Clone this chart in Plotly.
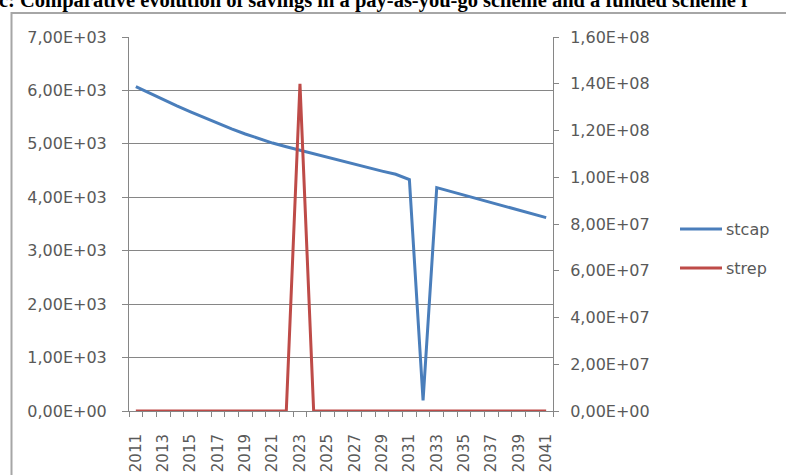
import plotly.graph_objects as go

years = list(range(2011, 2042))
stcap = [6070, 5945, 5825, 5710, 5600, 5490, 5380, 5280, 5185, 5095,
         5015, 4945, 4880, 4810, 4740, 4675, 4610, 4550, 4490, 4430,
         4330, 200, 4180, 4110, 4040, 3970, 3900, 3830, 3760, 3690, 3620]
strep = [0, 0, 0, 0, 0, 0, 0, 0, 0, 0,
         0, 0, 1.40e8, 0, 0, 0, 0, 0, 0, 0,
         0, 0, 0, 0, 0, 0, 0, 0, 0, 0, 0]

left_ticks = [0, 1000, 2000, 3000, 4000, 5000, 6000, 7000]
left_labels = ["0,00E+00", "1,00E+03", "2,00E+03", "3,00E+03",
               "4,00E+03", "5,00E+03", "6,00E+03", "7,00E+03"]
right_ticks = [0, 2e7, 4e7, 6e7, 8e7, 1e8, 1.2e8, 1.4e8, 1.6e8]
right_labels = ["0,00E+00", "2,00E+07", "4,00E+07", "6,00E+07", "8,00E+07",
                "1,00E+08", "1,20E+08", "1,40E+08", "1,60E+08"]
x_ticks = years[::2]
x_labels = [str(y) for y in x_ticks]
series_names = ["stcap", "strep"]
colors = ["#4A7EBB", "#BE4B48"]
title_text = "c: Comparative evolution of savings in a pay-as-you-go scheme and a funded scheme f"

W, H = 786, 475
L, R, T, B = 129, 233, 37, 64
PW, PH = W - L - R, H - T - B

def px(x):
    return (x - L) / PW

def py(y):
    return (H - B - y) / PH

FONT = "DejaVu Sans"
TXT = "#595959"
AX = "#868686"

fig = go.Figure()
fig.add_trace(go.Scatter(x=years, y=stcap, mode="lines", name=series_names[0],
                         line=dict(color=colors[0], width=3), yaxis="y"))
fig.add_trace(go.Scatter(x=years, y=strep, mode="lines", name=series_names[1],
                         line=dict(color=colors[1], width=3), yaxis="y2"))

fig.update_layout(
    width=W, height=H,
    margin=dict(l=L, r=R, t=T, b=B, pad=0, autoexpand=False),
    paper_bgcolor="white", plot_bgcolor="white",
    showlegend=False,
    xaxis=dict(range=[2010.5, 2041.5], tickmode="array", tickvals=x_ticks, ticktext=x_labels,
               tickangle=-90, showgrid=False, zeroline=False, showline=True, linecolor=AX,
               linewidth=1, ticks="", ticklabelstandoff=16, automargin=False,
               tickfont=dict(family=FONT, size=15, color=TXT),
               minor=dict(tick0=2010.5, dtick=1, ticks="outside", ticklen=5,
                          tickcolor=AX, showgrid=False)),
    yaxis=dict(range=[0, 7000], tickmode="array", tickvals=left_ticks, ticktext=left_labels,
               showgrid=True, gridcolor=AX, gridwidth=1, zeroline=False, automargin=False,
               showline=True, linecolor=AX, ticks="outside", ticklen=6, tickcolor=AX,
               ticklabelstandoff=12,
               tickfont=dict(family=FONT, size=16, color=TXT)),
    yaxis2=dict(range=[0, 1.6e8], overlaying="y", side="right", tickmode="array",
                tickvals=right_ticks, ticktext=right_labels, showgrid=False, zeroline=False,
                showline=True, linecolor=AX, ticks="outside", ticklen=5, tickcolor=AX,
                ticklabelstandoff=8, automargin=False,
                tickfont=dict(family=FONT, size=16, color=TXT)),
)

shapes = [
    dict(type="rect", xref="paper", yref="paper",
         x0=px(11.5), x1=px(W + 20), y0=py(H + 20), y1=py(13),
         line=dict(color="#a6a6a6", width=2), fillcolor="rgba(0,0,0,0)", layer="above"),
]
legend_y = [229, 268]
annotations = [
    dict(text=title_text, xref="paper", yref="paper", x=px(-3), y=py(14),
         xanchor="left", yanchor="bottom", showarrow=False,
         font=dict(family="Liberation Serif", size=20.5, color="black", weight="bold")),
]
for name, col, ly in zip(series_names, colors, legend_y):
    shapes.append(dict(type="line", xref="paper", yref="paper",
                       x0=px(680), x1=px(722), y0=py(ly), y1=py(ly),
                       line=dict(color=col, width=3)))
    annotations.append(dict(text=name, xref="paper", yref="paper", x=px(724), y=py(ly),
                            xanchor="left", yanchor="middle", showarrow=False,
                            font=dict(family=FONT, size=16, color=TXT)))
fig.update_layout(shapes=shapes, annotations=annotations)

fig.write_html("out.html")
